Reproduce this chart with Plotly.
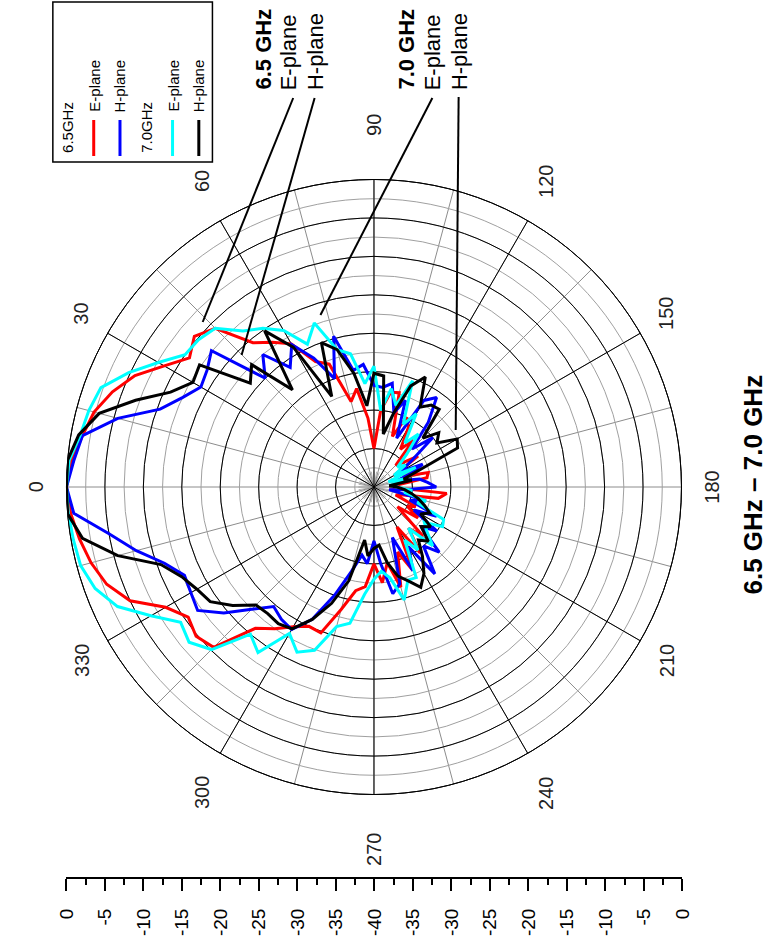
import math
import plotly.graph_objects as go

W, H = 781, 943

# ---------------- data (dB, angle in degrees, 5 deg steps) ----------------
theta_deg = list(range(0, 360, 5))

e_plane_65 = [0, -0.5, -1.5, -2.3, -3.8, -5.7, -8.5, -10.7, -9.5, -10.8, -15.5, -17, -18.5, -22, -23, -28.5, -27, -31,
              -35, -30, -27.5, -27.3, -33, -30, -31, -34, -32, -36, -35, -33, -37, -34, -36, -32.7, -33, -37,
              -38, -30.5, -31.5, -36, -37, -34, -35, -33, -36, -31, -33, -29.5, -34, -28, -31, -26.5, -30, -27.5,
              -30, -27, -26.3, -23.5, -19.8, -20, -19, -17.5, -16, -10.5, -9.8, -10.5, -8.7, -5, -3, -1.9, -1.1, -0.4]

h_plane_65 = [0, -0.8, -1.5, -5.5, -10.4, -12.5, -14, -13.5, -12.4, -20, -17.5, -21, -18.6, -21.5, -25, -19.7, -24.6, -24,
              -26.8, -27, -26.3, -30, -28, -33, -27, -25.8, -29, -33, -30, -34, -36, -33, -35, -37, -34, -33,
              -31.9, -36, -38, -33, -35, -31, -34, -30, -32, -28, -30, -26.2, -31, -28, -33, -27, -25.9, -30,
              -33, -30, -31, -28.6, -25, -21, -18.6, -19, -19.7, -17.5, -14.5, -12, -12.5, -12.8, -11, -8, -5, -0.8]

e_plane_70 = [0, -0.2, -1.2, -1.6, -2.2, -4.8, -7.6, -10, -10.2, -10.8, -13.5, -14.8, -16.5, -19.5, -17.3, -21.5, -22.4, -26.5,
              -24.3, -30, -27, -29, -25.3, -31, -29, -33, -31, -34, -36, -35, -37, -34, -38, -36, -37, -38,
              -37, -35, -36, -33, -34, -30, -29.7, -32, -31, -29.2, -33, -30, -32, -27, -27.1, -24.8, -28, -29,
              -28, -26, -22, -21.2, -17.4, -16.3, -18, -13.7, -15, -10.1, -8.6, -9.3, -6.5, -3.2, -1.4, -0.5, -0.3, -0.1]

h_plane_70 = [0, 0, -1, -3, -7, -10.8, -12.8, -12.3, -19, -17.5, -23.5, -15.2, -19, -27, -20, -21.5, -25, -29.4,
              -25.2, -25.5, -33, -30, -26, -24.2, -28, -27, -26.8, -31, -29, -30, -27.5, -28, -34, -36, -35, -38,
              -37, -36, -35, -34, -33, -32, -33, -31, -32, -30, -31, -29, -27, -25.6, -27, -28, -30, -32.4,
              -32, -31, -33, -27.4, -23.9, -21, -18.7, -18.3, -18.5, -18.3, -16, -14, -13.4, -12.4, -10.5, -5.5, -1.5, 0]

angular_tick_values = list(range(0, 360, 30))
angular_tick_labels = [str(v) for v in angular_tick_values]

scale_positions = list(range(-40, 41, 5))
scale_labels = ["0", "-5", "-10", "-15", "-20", "-25", "-30", "-35", "-40",
                "-35", "-30", "-25", "-20", "-15", "-10", "-5", "0"]

series_names = ["6.5GHz E-plane", "6.5GHz H-plane", "7.0GHz E-plane", "7.0GHz H-plane"]
series_values = [e_plane_65, h_plane_65, e_plane_70, h_plane_70]
series_colors = ["#ff0000", "#0000ff", "#00ffff", "#000000"]

FONT = "Liberation Sans, Arial, sans-serif"

# layout geometry (pixels in the 781x943 picture)
CX, CY, R = 373, 487, 316
HUB = 16


def px(x):
    return x / W


def py(y):
    return 1 - y / H


fig = go.Figure()

# fine spoke hub at the centre (bottom layer)
fig.add_trace(go.Scatterpolar(r=[None], theta=[0], subplot="polar", showlegend=False, hoverinfo="skip"))
# grey minor grid
fig.add_trace(go.Scatterpolar(r=[None], theta=[0], subplot="polar2", showlegend=False, hoverinfo="skip"))

for name, vals, col in zip(series_names, series_values, series_colors):
    fig.add_trace(go.Scatterpolar(
        r=vals + vals[:1], theta=theta_deg + theta_deg[:1], mode="lines",
        line=dict(color=col, width=3), name=name, subplot="polar3", showlegend=False))

# dummy trace for the linear dB scale below the plot
fig.add_trace(go.Scatter(x=[None], y=[None], xaxis="x", yaxis="y", showlegend=False, hoverinfo="skip"))

dom = dict(x=[px(CX - R), px(CX + R)], y=[py(CY + R), py(CY - R)])
hub_dom = dict(x=[px(CX - HUB), px(CX + HUB)], y=[py(CY + HUB), py(CY - HUB)])
major_spokes = [v for v in angular_tick_values if v % 180 != 0]

fig.update_layout(
    width=W, height=H,
    margin=dict(l=0, r=0, t=0, b=0),
    paper_bgcolor="white", plot_bgcolor="white",
    font=dict(family=FONT, color="black"),
    polar=dict(
        domain=hub_dom, bgcolor="white",
        radialaxis=dict(range=[0, 1], showticklabels=False, ticks="", showline=False, showgrid=False),
        angularaxis=dict(rotation=180, direction="clockwise", dtick=10, showticklabels=False, ticks="",
                         gridcolor="#b4b4b4", gridwidth=0.5, showline=False),
    ),
    polar2=dict(
        domain=dom, bgcolor="rgba(0,0,0,0)",
        radialaxis=dict(range=[-40, 0], tick0=0, dtick=2.5, showticklabels=False, ticks="",
                        showline=False, gridcolor="#a0a0a0", gridwidth=1),
        angularaxis=dict(rotation=180, direction="clockwise", dtick=15, showticklabels=False, ticks="",
                         gridcolor="#8c8c8c", gridwidth=1, showline=True, linecolor="black", linewidth=1),
    ),
    polar3=dict(
        domain=dom, bgcolor="rgba(0,0,0,0)",
        radialaxis=dict(range=[-40, 0], tick0=0, dtick=5, showticklabels=False, ticks="",
                        showline=False, gridcolor="#000000", gridwidth=1),
        angularaxis=dict(rotation=180, direction="clockwise", tickmode="array",
                         tickvals=major_spokes, showticklabels=False, ticks="",
                         gridcolor="#000000", gridwidth=1, showline=True, linecolor="black", linewidth=1),
    ),
    xaxis=dict(domain=[px(CX - R), px(CX + R + 1)], range=[-40, 40], anchor="y",
               tickmode="array", tickvals=scale_positions, ticktext=scale_labels,
               ticks="outside", ticklen=12, tickwidth=1.5, tickcolor="black",
               showline=True, linecolor="black", linewidth=2,
               showgrid=False, zeroline=False, tickangle=-90, ticklabelstandoff=10,
               tickfont=dict(size=19, color="black", family=FONT),
               minor=dict(tick0=-40, dtick=2.5, ticks="outside", ticklen=6, tickcolor="black",
                          tickwidth=1.5, showgrid=False)),
    yaxis=dict(domain=[py(877), py(870)], range=[0, 1], visible=False),
)

shapes = []
annotations = []

# ---- angular tick labels (rotated, just outside the rim) ----
for val, lab in zip(angular_tick_values, angular_tick_labels):
    a = math.radians(val)
    d = R + 31 + 15 * abs(math.sin(a)) ** 6
    x = CX - math.cos(a) * d
    y = CY - math.sin(a) * d
    annotations.append(dict(x=px(x), y=py(y), xref="paper", yref="paper", text=lab, showarrow=False,
                            textangle=-90, xanchor="center", yanchor="middle",
                            font=dict(size=20, family=FONT, color="#222222")))

# ---- legend (rotated, drawn manually) ----
shapes.append(dict(type="rect", xref="paper", yref="paper", x0=px(43), x1=px(207), y0=py(162), y1=py(2),
                   line=dict(color="black", width=1.5), fillcolor="white", layer="above"))
legend_cols = [(58, "6.5GHz", None), (85, "E-plane", "#ff0000"), (112, "H-plane", "#0000ff"),
               (139, "7.0GHz", None), (166, "E-plane", "#00ffff"), (193, "H-plane", "#000000")]
for x, txt, col in legend_cols:
    if col is None:
        annotations.append(dict(x=px(x), y=py(155), xref="paper", yref="paper", text=txt, showarrow=False,
                                textangle=-90, xanchor="center", yanchor="bottom",
                                font=dict(size=15, family=FONT, color="black")))
    else:
        shapes.append(dict(type="line", xref="paper", yref="paper", x0=px(x), x1=px(x), y0=py(156), y1=py(120),
                           line=dict(color=col, width=3), layer="above"))
        annotations.append(dict(x=px(x), y=py(114), xref="paper", yref="paper", text=txt, showarrow=False,
                                textangle=-90, xanchor="center", yanchor="bottom",
                                font=dict(size=15, family=FONT, color="black")))

# ---- callout labels ----
callouts = [(259, "<b>6.5 GHz</b>"), (286, "E-plane"), (313, "H-plane"),
            (406, "<b>7.0 GHz</b>"), (434, "E-plane"), (461, "H-plane")]
for x, txt in callouts:
    annotations.append(dict(x=px(x), y=py(92), xref="paper", yref="paper", text=txt, showarrow=False,
                            textangle=-90, xanchor="center", yanchor="bottom",
                            font=dict(size=22, family=FONT, color="black")))

leaders = [((290, 98), (197, 322)), ((312, 98), (237, 355)), ((433, 98), (318, 315)), ((460, 97), (457, 430))]
for (x0, y0), (x1, y1) in leaders:
    shapes.append(dict(type="line", xref="paper", yref="paper", x0=px(x0), y0=py(y0), x1=px(x1), y1=py(y1),
                       line=dict(color="black", width=2), layer="above"))

# ---- title ----
annotations.append(dict(x=px(762), y=py(485), xref="paper", yref="paper", text="<b>6.5 GHz – 7.0 GHz</b>",
                        showarrow=False, textangle=-90, xanchor="center", yanchor="middle",
                        font=dict(size=26, family=FONT, color="black")))

fig.update_layout(shapes=shapes, annotations=annotations)

fig.write_html("out.html", config={"displayModeBar": False},
               post_script="document.body.style.margin='0';document.body.style.overflow='hidden';")
